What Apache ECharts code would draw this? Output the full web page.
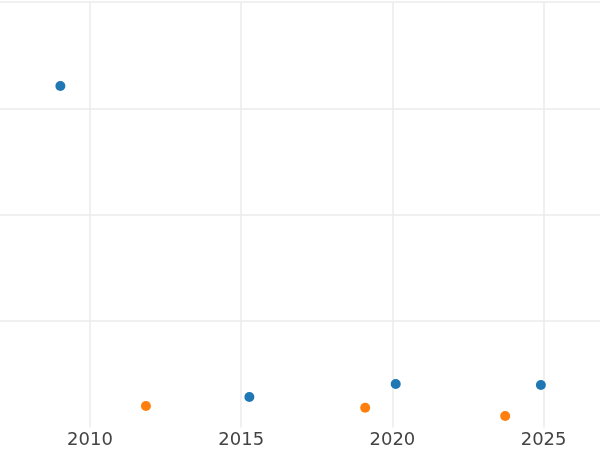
<!DOCTYPE html>
<html><head><meta charset="utf-8">
<script src="https://cdn.jsdelivr.net/npm/echarts@6/dist/echarts.min.js"></script>
<style>html,body{margin:0;padding:0;background:#fff}#c{width:600px;height:450px}</style>
</head><body><div id="c"></div>
<script>
const seriesA = [[2009.02, 3.21], [2015.27, 0.287], [2020.11, 0.409], [2024.91, 0.40]];
const seriesB = [[2011.85, 0.202], [2019.10, 0.186], [2023.73, 0.108]];
const xTickInterval = 5;
const colorA = '#1f77b4', colorB = '#ff7f0e';
const chart = echarts.init(document.getElementById('c'));
chart.setOption({
  animation: false,
  backgroundColor: '#fff',
  grid: {left: -61.2, right: -94.8, top: 2, bottom: 22.5, containLabel: false, outerBoundsMode: 'none'},
  xAxis: {
    type: 'value', min: 2005, max: 2030, interval: xTickInterval,
    axisLine: {show: false}, axisTick: {show: false},
    axisLabel: {show: true, color: '#444', fontSize: 18, fontFamily: 'DejaVu Sans', margin: 4,
      formatter: v => String(v)},
    splitLine: {show: true, lineStyle: {color: '#ebebeb', width: 1.5}}
  },
  yAxis: {
    type: 'value', min: 0, max: 4, interval: 1,
    axisLine: {show: false}, axisTick: {show: false}, axisLabel: {show: false},
    splitLine: {show: true, showMinLine: false, lineStyle: {color: '#ebebeb', width: 1.5}}
  },
  series: [
    {type: 'scatter', data: seriesA, symbolSize: 10, itemStyle: {color: colorA, opacity: 1}},
    {type: 'scatter', data: seriesB, symbolSize: 10, itemStyle: {color: colorB, opacity: 1}}
  ]
});
</script></body></html>
